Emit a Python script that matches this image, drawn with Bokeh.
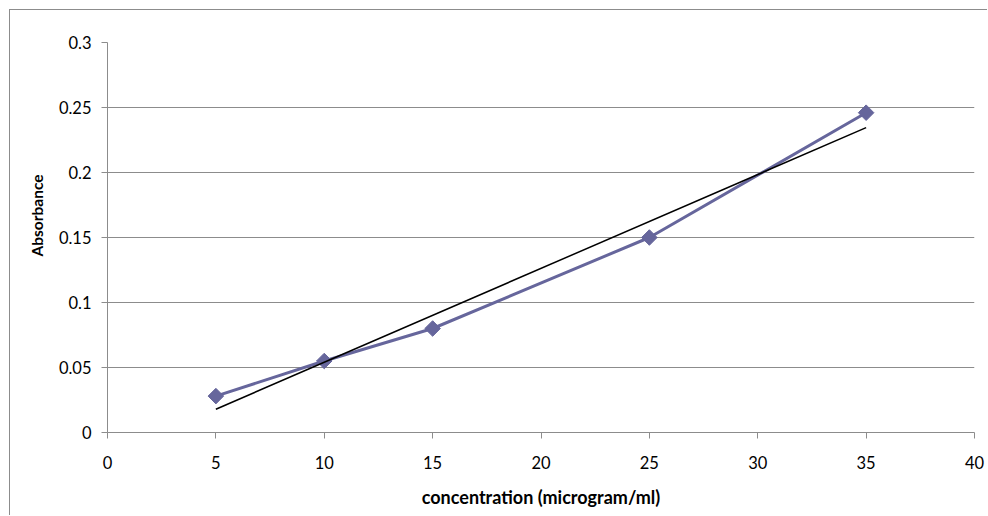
import numpy as np
from bokeh.plotting import figure
from bokeh.models import Range1d, FixedTicker, CustomJSTickFormatter, ColumnDataSource, Title
from bokeh.embed import file_html
from bokeh.resources import INLINE

# Data
concentration = [5, 10, 15, 25, 35]
absorbance = [0.028, 0.055, 0.08, 0.15, 0.246]
x_ticks = [0, 5, 10, 15, 20, 25, 30, 35, 40]
y_ticks = [0, 0.05, 0.1, 0.15, 0.2, 0.25, 0.3]

# Linear trendline (least squares fit of the data)
slope, intercept = np.polyfit(concentration, absorbance, 1)
trend_x = [min(concentration), max(concentration)]
trend_y = [slope * v + intercept for v in trend_x]

FONT = "Lato"
GRAY = "#8c8c8c"
SERIES = "#66669c"

p = figure(width=978, height=506, output_backend="svg", toolbar_location=None,
           x_range=Range1d(0, 40), y_range=Range1d(0, 0.3),
           min_border_left=97, min_border_right=14, min_border_top=32, min_border_bottom=84)
p.styles = {"margin-left": "9px", "margin-top": "9px",
            "border-left": "1px solid #8c8c8c", "border-top": "1px solid #8c8c8c"}
p.outline_line_color = None
p.background_fill_color = "white"
p.border_fill_color = "white"

p.xgrid.grid_line_color = None
p.ygrid.grid_line_color = GRAY
p.ygrid.grid_line_width = 1

for ax in (p.xaxis[0], p.yaxis[0]):
    ax.axis_line_color = GRAY
    ax.major_tick_line_color = GRAY
    ax.minor_tick_line_color = None
    ax.major_tick_in = 0
    ax.major_tick_out = 6
    ax.major_label_text_font = FONT
    ax.major_label_text_font_size = "16.5px"
    ax.major_label_text_color = "black"
    ax.axis_label_text_font = FONT
    ax.axis_label_text_font_style = "bold"
    ax.axis_label_text_color = "black"

p.xaxis.axis_label_text_font_size = "18px"
p.xaxis.ticker = FixedTicker(ticks=x_ticks)
p.yaxis.ticker = FixedTicker(ticks=y_ticks)
p.yaxis.formatter = CustomJSTickFormatter(code="""
    let s = tick.toFixed(2);
    s = s.replace(/0+$/, '').replace(/\\.$/, '');
    return s;
""")
p.xaxis.major_label_standoff = 17
p.yaxis.major_label_standoff = 10
p.xaxis.axis_label = "concentration (microgram/ml)"
p.xaxis.axis_label_standoff = 14

ytitle = Title(text="Absorbance", align="left", offset=176, standoff=20,
               text_font=FONT, text_font_style="bold", text_font_size="15.5px",
               text_color="black")
p.add_layout(ytitle, "left")

src = ColumnDataSource(dict(x=concentration, y=absorbance))
p.line("x", "y", source=src, line_color=SERIES, line_width=3)
p.scatter("x", "y", source=src, marker="square", angle=np.pi / 4, size=11,
          fill_color=SERIES, line_color=SERIES)
p.line(trend_x, trend_y, line_color="black", line_width=1.5)

open("out.html", "w").write(file_html(p, INLINE))
